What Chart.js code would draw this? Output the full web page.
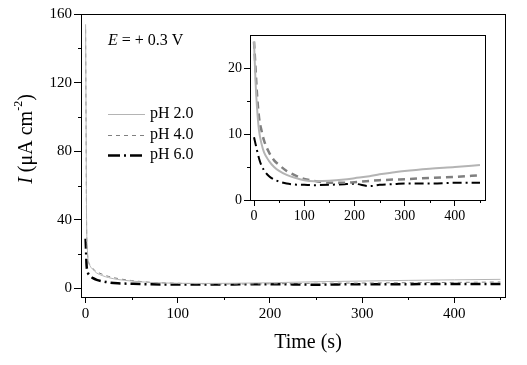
<!DOCTYPE html>
<html>
<head>
<meta charset="utf-8">
<script src="https://cdn.jsdelivr.net/npm/chart.js@4.4.0/dist/chart.umd.min.js"></script>
<style>
  html, body { margin: 0; padding: 0; background: #fff; }
  #wrap { position: relative; width: 527px; height: 365px; }
  canvas { position: absolute; left: 0; top: 0; }
</style>
</head>
<body>
<div id="wrap">
  <canvas id="main" width="527" height="365"></canvas>
  <canvas id="inset" width="527" height="365"></canvas>
</div>
<script>
// ---- Data ----
const seriesLabels = ['pH 2.0', 'pH 4.0', 'pH 6.0'];

// main panel
const mainTime = [0, 0.5, 1, 2, 3, 5, 8, 12, 18, 25, 35, 50, 70, 100, 130, 160, 200, 250, 300, 350, 400, 450];
const mainPH2  = [154, 100, 44, 22, 16, 13, 11, 9, 7.5, 6.3, 5.2, 4.3, 3.5, 3.0, 2.9, 3.0, 3.3, 3.9, 4.3, 4.7, 5.0, 5.3];
const mainPH4  = [151, 95, 40, 21, 16, 13.5, 11.5, 9.8, 8.3, 7.0, 5.8, 4.6, 3.6, 3.0, 2.7, 2.6, 2.7, 3.0, 3.15, 3.35, 3.5, 3.75];
const mainPH6  = [29, 22, 14, 10, 8.5, 7.2, 6.0, 5.0, 4.2, 3.5, 3.0, 2.7, 2.4, 2.3, 2.25, 2.35, 2.5, 2.2, 2.5, 2.5, 2.6, 2.6];
const mainXTicks = [0, 100, 200, 300, 400];
const mainXMinor = [50, 150, 250, 350, 450];
const mainYTicks = [0, 40, 80, 120, 160];
const mainYMinor = [20, 60, 100, 140];

// inset panel
const insetTime = [0, 3, 6, 10, 15, 20, 30, 40, 50, 65, 80, 100, 120, 150, 180, 200, 230, 250, 280, 300, 350, 400, 450];
const insetPH2  = [24, 18, 14, 10.5, 8.5, 7.2, 5.9, 5.0, 4.4, 3.8, 3.4, 3.0, 2.85, 2.9, 3.1, 3.3, 3.6, 3.9, 4.2, 4.4, 4.75, 5.0, 5.3];
const insetPH4  = [24, 20, 16, 12.5, 10.5, 9.0, 7.2, 6.0, 5.3, 4.4, 3.8, 3.2, 2.9, 2.6, 2.6, 2.7, 2.9, 3.0, 3.1, 3.15, 3.35, 3.5, 3.75];
const insetPH6  = [9.5, 8.5, 7.5, 6.3, 5.2, 4.5, 3.6, 3.1, 2.8, 2.5, 2.35, 2.3, 2.25, 2.3, 2.4, 2.45, 2.1, 2.3, 2.4, 2.5, 2.5, 2.6, 2.6];
const insetXTicks = [0, 100, 200, 300, 400];
const insetXMinor = [50, 150, 250, 350, 450];
const insetYTicks = [0, 10, 20];
const insetYMinor = [5, 15];

const xTitle = 'Time (s)';
const annotation = { italic: 'E', rest: ' = + 0.3 V' };

// ---- Styles ----
const SERIF = '"Liberation Serif", "Times New Roman", serif';
const styles = [
  { color: '#b4b4b4', dash: [], mainWidth: 1, insetWidth: 2 },
  { color: '#808080', dash: [4, 4], insetDash: [7, 5], mainWidth: 1, insetWidth: 2.5 },
  { color: '#000000', dash: [10, 4, 2, 4], insetDash: [9, 4, 2, 4], mainWidth: 2.5, insetWidth: 2 }
];

function pts(t, v) { return t.map((x, i) => ({ x: x, y: v[i] })); }

function fixTicks(values) {
  return function (scale) { scale.ticks = values.map(v => ({ value: v })); };
}

const framePlugin = {
  id: 'frame',
  afterDraw(chart, args, opts) {
    const ctx = chart.ctx;
    const a = chart.chartArea;
    ctx.save();
    ctx.strokeStyle = '#000';
    ctx.lineWidth = 1;
    ctx.strokeRect(Math.round(a.left) + 0.5, Math.round(a.top) + 0.5,
                   Math.round(a.right - a.left), Math.round(a.bottom - a.top));
    // minor ticks
    const xs = chart.scales.x, ys = chart.scales.y;
    ctx.beginPath();
    (opts.xMinor || []).forEach(v => {
      const px = Math.round(xs.getPixelForValue(v)) + 0.5;
      ctx.moveTo(px, a.bottom); ctx.lineTo(px, a.bottom + opts.minorLen);
    });
    (opts.yMinor || []).forEach(v => {
      const py = Math.round(ys.getPixelForValue(v)) + 0.5;
      ctx.moveTo(a.left, py); ctx.lineTo(a.left - opts.minorLen, py);
    });
    ctx.stroke();
    ctx.restore();
  }
};

const textPlugin = {
  id: 'texts',
  afterDraw(chart) {
    const ctx = chart.ctx;
    ctx.save();
    ctx.fillStyle = '#000';
    // Y axis title, rotated: italic I, (μA cm^-2)
    ctx.translate(27, 139);
    ctx.rotate(-Math.PI / 2);
    const parts = [
      { t: 'I', f: 'italic 20px ' + SERIF, dy: 0 },
      { t: ' (\u03BCA cm', f: '20px ' + SERIF, dy: 0 },
      { t: '-2', f: '12px ' + SERIF, dy: -8 },
      { t: ')', f: '20px ' + SERIF, dy: 0 }
    ];
    let total = 0;
    parts.forEach(p => { ctx.font = p.f; p.w = ctx.measureText(p.t).width; total += p.w; });
    let x = -total / 2;
    ctx.textBaseline = 'middle';
    parts.forEach(p => { ctx.font = p.f; ctx.fillText(p.t, x, p.dy); x += p.w; });
    ctx.restore();

    ctx.save();
    ctx.fillStyle = '#000';
    // X axis title
    ctx.font = '20px ' + SERIF;
    ctx.textAlign = 'center';
    ctx.textBaseline = 'middle';
    ctx.fillText(xTitle, 308, 343);

    // annotation E = + 0.3 V
    ctx.textAlign = 'left';
    ctx.font = 'italic 16px ' + SERIF;
    ctx.fillText(annotation.italic, 108, 41);
    const ew = ctx.measureText(annotation.italic).width;
    ctx.font = '16px ' + SERIF;
    ctx.fillText(annotation.rest, 108 + ew, 41);

    // legend
    const ly = [114, 135, 155];
    seriesLabels.forEach((lab, i) => {
      const s = styles[i];
      ctx.beginPath();
      ctx.strokeStyle = s.color;
      ctx.lineWidth = i === 2 ? 2.5 : 1;
      ctx.setLineDash(i === 2 ? [12, 4, 2, 4] : s.dash);
      ctx.moveTo(108, ly[i] + 0.5); ctx.lineTo(145, ly[i] + 0.5);
      ctx.stroke();
      ctx.setLineDash([]);
      ctx.font = '16px ' + SERIF;
      ctx.fillText(lab, 150, ly[i]);
    });
    ctx.restore();
  }
};

function commonScale(min, max, ticks, afterFitFn) {
  return {
    type: 'linear', min: min, max: max,
    afterBuildTicks: fixTicks(ticks),
    afterFit: afterFitFn,
    grid: { drawOnChartArea: false, drawTicks: true, tickLength: 6, tickColor: '#000', color: '#000' },
    border: { display: true, color: '#000', width: 1 },
    ticks: { color: '#000', font: { family: SERIF, size: 15 }, padding: 2, autoSkip: false, maxRotation: 0 }
  };
}

// ---- Main chart ----
const mainX = commonScale(-5, 455, mainXTicks, s => { s.height = 68; });
mainX.position = 'bottom';
const mainY = commonScale(-5, 160, mainYTicks, s => { s.width = 81; });
mainY.position = 'left';
mainY.grid.tickLength = 7;

new Chart(document.getElementById('main'), {
  type: 'line',
  data: {
    datasets: [mainPH2, mainPH4, mainPH6].map((v, i) => ({
      label: seriesLabels[i],
      data: pts(mainTime, v),
      borderColor: styles[i].color,
      borderWidth: styles[i].mainWidth,
      borderDash: styles[i].dash,
      pointRadius: 0,
      cubicInterpolationMode: 'monotone',
      fill: false
    }))
  },
  options: {
    responsive: false, animation: false, devicePixelRatio: 1,
    layout: { padding: { left: 0, top: 14, right: 22, bottom: 0 } },
    plugins: {
      legend: { display: false }, tooltip: { enabled: false },
      frame: { xMinor: mainXMinor, yMinor: mainYMinor, minorLen: 3 }
    },
    scales: { x: mainX, y: mainY }
  },
  plugins: [framePlugin, textPlugin]
});

// ---- Inset chart ----
const inX = commonScale(-8, 460, insetXTicks, s => { s.height = 25; });
inX.position = 'bottom';
inX.ticks.font.size = 14;
const inY = commonScale(0, 25, insetYTicks, s => { s.width = 30; });
inY.position = 'left';
inY.ticks.font.size = 14;

new Chart(document.getElementById('inset'), {
  type: 'line',
  data: {
    datasets: [insetPH2, insetPH4, insetPH6].map((v, i) => ({
      label: seriesLabels[i],
      data: pts(insetTime, v),
      borderColor: styles[i].color,
      borderWidth: styles[i].insetWidth,
      borderDash: styles[i].insetDash || styles[i].dash,
      pointRadius: 0,
      cubicInterpolationMode: 'monotone',
      fill: false
    }))
  },
  options: {
    responsive: false, animation: false, devicePixelRatio: 1,
    layout: { padding: { left: 220, top: 35, right: 42, bottom: 140 } },
    plugins: {
      legend: { display: false }, tooltip: { enabled: false },
      frame: { xMinor: insetXMinor, yMinor: insetYMinor, minorLen: 3 }
    },
    scales: { x: inX, y: inY }
  },
  plugins: [framePlugin]
});
</script>
</body>
</html>
